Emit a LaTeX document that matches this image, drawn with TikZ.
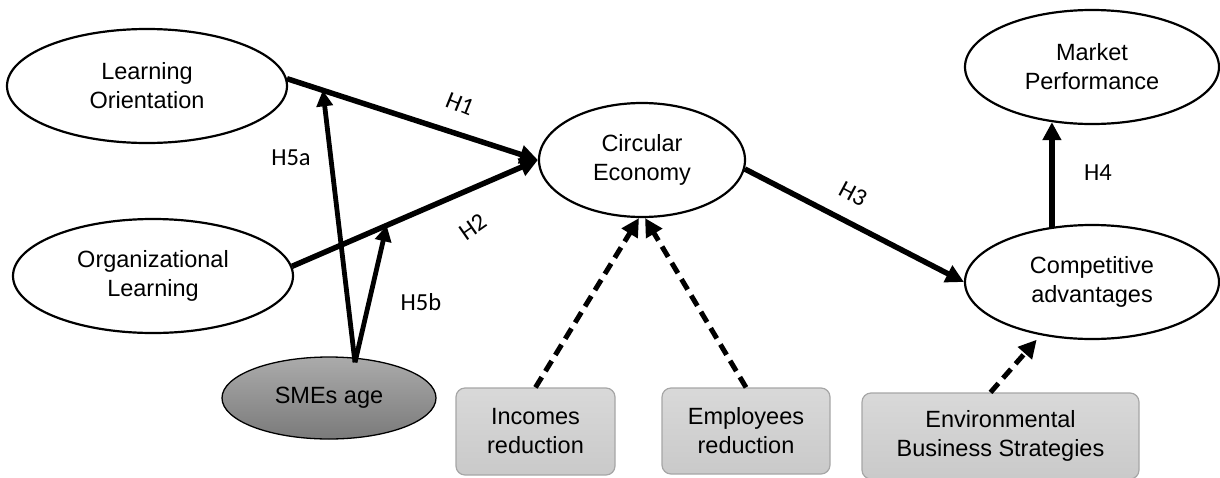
\documentclass[tikz,border=0pt]{standalone}
\usepackage{fontspec}
\setmainfont{Liberation Sans}
\newfontfamily\hypfont{Carlito}
\usetikzlibrary{arrows.meta,shapes.geometric,calc,shadings}

\begin{document}
\begin{tikzpicture}[x=1pt,y=-1pt,
  construct/.style={ellipse, draw, line width=2.2pt, fill=white, inner sep=0pt,
    align=center, font=\fontsize{23.5}{29}\selectfont},
  moderator/.style={ellipse, draw, line width=1.3pt, top color=black!33,
    bottom color=black!52, inner sep=0pt, align=center,
    font=\fontsize{23.5}{29}\selectfont},
  control/.style={rectangle, rounded corners=9pt, draw=black!35, line width=1.2pt,
    top color=black!15, bottom color=black!21, inner sep=0pt, align=center,
    font=\fontsize{23.5}{29}\selectfont},
  hyp/.style={inner sep=0pt, font=\hypfont\fontsize{24.5}{28}\selectfont},
  mainpath/.style={line width=5.5pt, -{Triangle[length=18pt,width=18pt]}},
  modpath/.style={line width=4.8pt, -{Triangle[length=16pt,width=16pt]}},
  ctrlpath/.style={line width=5pt, dash pattern=on 12pt off 7pt,
    -{Triangle[length=18pt,width=18pt]}}
]
\useasboundingbox (0,0) rectangle (1220,477);
\clip (0,0) rectangle (1220,477);

% latent constructs
\node[construct, minimum width=280pt, minimum height=114pt] (lo) at (147,86) {Learning\\Orientation};
\node[construct, minimum width=280pt, minimum height=114pt] (ol) at (153,276) {Organizational\\Learning};
\node[construct, minimum width=206pt, minimum height=114pt] (ce) at (642,160) {Circular\\Economy};
\node[construct, minimum width=254pt, minimum height=114pt] (mp) at (1092,67) {Market\\Performance};
\node[construct, minimum width=254pt, minimum height=114pt] (ca) at (1092,282) {Competitive\\advantages};

% moderator
\node[moderator, minimum width=214pt, minimum height=82pt] (sme) at (329,398) {SMEs age};

% control variables
\node[control, minimum width=159pt, minimum height=87pt] (inc) at (535.5,431.5) {Incomes\\reduction};
\node[control, minimum width=168pt, minimum height=86pt] (emp) at (746,431) {Employees\\reduction};
\node[control, minimum width=277pt, minimum height=86pt] (ebs) at (1000.5,436) {Environmental\\Business Strategies};

% hypothesised paths
\draw[mainpath] (lo.3) -- (ce.west);
\draw[mainpath] (ol.4) -- (ce.west);
\draw[mainpath] (ce.-5) -- (ca.west);
\draw[mainpath] (ca.126.5) -- (mp.-126.5);

% moderating effects
\coordinate (h5a) at ($(lo.3)!0.143!(ce.west)$);
\coordinate (h5b) at ($(ol.4)!0.385!(ce.west)$);
\coordinate (smetop) at ($(sme.north)+(26,6)$);
\draw[modpath] (smetop) -- (h5a);
\draw[modpath] (smetop) -- (h5b);

% control effects
\draw[ctrlpath] (inc.north) -- (ce.-93);
\draw[ctrlpath] (emp.north) -- (ce.-87);
\draw[ctrlpath, shorten >=6pt] ($(ebs.north)+(-10,0)$) -- (ca.-134);

% path labels
\node[hyp, rotate=-22] (l1) at (460,104) {H1};
\node[hyp, rotate=35] (l2) at (473,227) {H2};
\node[hyp, rotate=-28] (l3) at (853,194) {H3};
\node[hyp] (l4) at (1098,173) {H4};
\node[hyp] (l5a) at (291,158) {H5a};
\node[hyp] (l5b) at (421,302) {H5b};
\end{tikzpicture}
\end{document}
